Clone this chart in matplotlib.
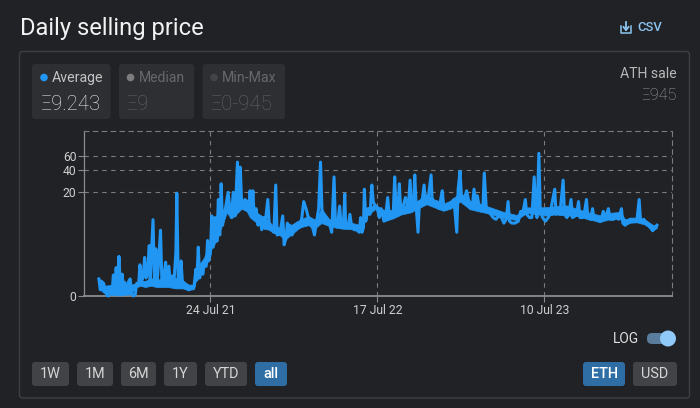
import numpy as np
import pandas as pd
import matplotlib
matplotlib.use("Agg")
import matplotlib.pyplot as plt
from matplotlib.patches import FancyBboxPatch, Circle

plt.rcParams["font.family"] = ["Roboto", "DejaVu Sans"]

# days counted from the first tick, 24 Jul 21
days = [-239, -236, -234, -229, -225, -222, -218, -215, -211, -208, -205, -202, -199, -196, -193, -189,
        -186, -184, -181, -176, -172, -169, -165, -161, -158, -154, -151, -147, -144, -141, -138, -135,
        -131, -129, -126, -123, -120, -117, -114, -111, -107, -104, -101, -96, -93, -89, -86, -82,
        -78, -74, -72, -69, -66, -63, -60, -56, -52, -47, -40, -35, -31, -29, -26, -23,
        -21, -16, -14, -9, -6, -4, 0, 3, 6, 10, 14, 17, 20, 23, 26, 29,
        34, 38, 41, 45, 49, 53, 58, 61, 64, 67, 71, 74, 78, 82, 85, 89,
        91, 94, 98, 102, 106, 110, 115, 117, 123, 126, 131, 136, 140, 143, 149, 155,
        158, 162, 165, 167, 170, 175, 180, 186, 192, 196, 200, 205, 210, 215, 219, 223,
        227, 232, 236, 239, 242, 246, 252, 256, 260, 265, 268, 273, 277, 280, 285, 288,
        290, 295, 299, 303, 308, 313, 319, 322, 325, 328, 330, 333, 338, 342, 346, 349,
        353, 358, 362, 366, 372, 376, 380, 383, 389, 392, 395, 398, 402, 405, 408, 413,
        418, 424, 428, 431, 435, 438, 441, 445, 448, 453, 458, 461, 467, 473, 475, 480,
        485, 490, 497, 500, 506, 512, 518, 522, 528, 531, 535, 538, 543, 549, 555, 558,
        562, 565, 569, 572, 575, 579, 584, 587, 591, 595, 601, 606, 612, 618, 624, 629,
        634, 638, 641, 646, 653, 660, 665, 669, 675, 678, 684, 689, 694, 697, 700, 704,
        707, 712, 718, 724, 728, 732, 738, 741, 745, 749, 756, 759, 764, 768, 773, 776,
        782, 785, 789, 792, 797, 801, 806, 809, 815, 819, 822, 828, 832, 837, 842, 847,
        853, 857, 864, 871, 875, 881, 884, 889, 896, 901, 907, 914, 919, 922, 929, 934,
        939, 944, 948, 952, 957]
prices = [.65, .2, .55, .45, .2, .02, 0, .15, .05, .85, .4, 1.3, .3, 2.2, .3, .9,
          .1, .5, .15, .5, .65, .1, 0, .05, .45, .35, 1.5, .6, .8, 2.1, .7, .9,
          3.4, .6, 3, 8.4, .6, 3, .55, 1.7, 5.9, .55, .5, 1.7, .5, 1.4, .45, .8,
          .55, 2.6, 19.5, .6, .4, 1.8, .5, .45, .25, .2, .25, .35, 1.2, .6, 3.2, .7,
          1.0, .9, 1.5, 1.4, 4.1, 1.8, 2.5, 9.5, 3.2, 9, 4, 16, 5, 26, 7, 9,
          14, 20, 13, 9, 20, 9.5, 50, 14, 43, 14, 12, 16, 15, 12, 21, 10,
          21, 9, 12, 7, 9, 6, 9, 7, 16, 7.5, 6.2, 5.5, 25, 5, 5.2, 9.5,
          3.5, 4.5, 7.5, 5.5, 7, 5, 6, 7.5, 6.5, 9, 15, 12, 9, 7, 6.5, 5,
          7.5, 12, 50, 12, 8, 9, 7.5, 7, 5.5, 32, 7, 7.5, 13, 7, 7, 19,
          6.5, 6.5, 10, 6.5, 6, 6, 5.5, 9, 5.5, 6.5, 22, 8, 12, 10, 25, 15,
          13, 12, 9, 12, 8, 10, 17, 10, 9, 11, 32, 12, 11, 26, 11, 13,
          17, 12, 29, 11, 12, 34, 13, 5.5, 15, 14, 25, 14, 17, 34, 17, 14,
          15, 12, 21, 13, 12, 13, 15, 16, 5.5, 22, 38, 18, 15, 21, 14, 12,
          14, 22, 14, 18, 14, 13, 12, 36, 13, 11, 10, 9, 8.5, 9.5, 9, 7.5,
          8.5, 15, 8, 7.5, 7.5, 8, 11, 10, 16, 10, 9, 9, 32, 12, 9, 65,
          11, 9, 8, 9, 10, 14, 22, 10, 11, 10, 29, 10, 9, 10, 16, 9,
          9.5, 10, 15, 9, 9, 10, 16, 9, 8.5, 12, 9, 9, 8, 8, 11, 9,
          12, 8.5, 8.5, 10, 8.5, 12, 7.5, 7, 8, 8.5, 8, 8, 16, 8, 8.5, 7.5,
          7, 6.3, 5.8, 6.3, 7]

# day to day spread of the average, the solid band under the spikes
band_days = [-239, -229, -205, -190, -172, -158, -150, -140, -128, -115, -101, -90, -75, -60, -47, -35,
             -29, -15, -5, 0, 8, 17, 25, 35, 45, 55, 67, 78, 85, 100, 114, 125,
             135, 148, 160, 172, 192, 210, 224, 238, 255, 270, 285, 305, 324, 335, 353, 365,
             374, 392, 410, 428, 445, 463, 480, 499, 515, 535, 556, 575, 599, 625, 656, 678,
             700, 721, 740, 764, 785, 807, 835, 855, 878, 889, 900, 914, 930, 949, 957]
band_low = [.25, .1, .02, .02, .05, .3, .35, .3, .35, .3, .3, .3, .25, .25, .2, .22,
            .8, 1.2, 1.8, 2.8, 3.5, 4.8, 7, 10.5, 8.8, 10, 12, 11, 9, 7.5, 6.2, 6,
            5.4, 5, 4.2, 5, 6.5, 7, 6.3, 7.5, 6.8, 6.4, 6.2, 6.1, 5.8, 9.6, 11.8, 10,
            8, 8.8, 10, 10.6, 12, 13.8, 12.5, 11.2, 12, 15, 11.8, 11, 10.2, 9, 8.3, 10.5,
            10, 9.6, 10, 9.6, 9.5, 8.6, 7.8, 8.5, 8.6, 7, 7.6, 7.7, 7.2, 5.9, 6.4]
band_high = [.45, .35, .4, .3, .4, .45, .6, .55, .7, .6, .7, .55, .7, .6, .4, .4,
             1.3, 2, 3, 3.8, 6, 8.5, 10, 14, 12.5, 14, 16.5, 14.5, 13, 10.5, 9.2, 8,
             6.8, 6.5, 5.8, 7, 8.4, 9.5, 8.4, 12, 8.5, 8.4, 7.8, 7.5, 7, 11.5, 14, 12,
             11.5, 11.5, 13, 14, 15.5, 19, 16, 14, 15.5, 20, 15.5, 14, 12.6, 11, 9.8, 12.5,
             12.5, 12.6, 13, 13.3, 12, 10.8, 9.7, 10.5, 10.8, 8.5, 9, 9, 8.6, 7, 7]

start_date = pd.Timestamp("2021-07-24")
dates = start_date + pd.to_timedelta(days, unit="D")
band_dates = start_date + pd.to_timedelta(band_days, unit="D")
x_ticks = pd.to_datetime(["2021-07-24", "2022-07-17", "2023-07-10"])
x_labels = ["24 Jul 21", "17 Jul 22", "10 Jul 23"]
y_ticks = [0, 20, 40, 60]

range_buttons = ["1W", "1M", "6M", "1Y", "YTD", "all"]
range_edges = [(32, 69), (77, 113), (121, 156), (164, 197), (205, 247), (255, 287)]

bg = "#202226"
W, H = 700, 408
fig = plt.figure(figsize=(7, 4.08), dpi=100, facecolor=bg)


def box(a, x0, y0, x1, y1, face, edge="none", r=3, lw=1):
    a.add_patch(FancyBboxPatch((x0 + r, y0 + r), x1 - x0 - 2 * r, y1 - y0 - 2 * r,
                               boxstyle="round,pad=%d,rounding_size=%d" % (r, r),
                               fc=face, ec=edge, lw=lw))


# page chrome in pixel coords
ui = fig.add_axes([0, 0, 1, 1])
ui.set_xlim(0, W)
ui.set_ylim(H, 0)
ui.axis("off")

ui.text(19.5, 28, "Daily selling price", fontsize=17.1, color="#f2f2f2", va="center")
box(ui, 19.5, 51.5, 689.5, 398, "none", "#3d3f43")

# csv link
icon = "#8cc4f0"
ui.plot([621, 621, 631, 631], [26, 33, 33, 26], color=icon, lw=1.1)
ui.plot([626, 626], [22, 29.5], color=icon, lw=1.3)
ui.plot([623.5, 626, 628.5], [27, 30, 27], color=icon, lw=1.3)
ui.text(637, 27.5, "CSV", fontsize=9.4, color=icon, va="center", fontweight="medium")

# stat chips
box(ui, 32, 64, 110.5, 119, "#2d2f33")
box(ui, 119, 64, 194, 119, "#2d2f33")
box(ui, 202.5, 64, 285, 119, "#2d2f33")
ui.add_patch(Circle((44, 77.5), 3.8, fc="#2196f3", ec="none"))
ui.add_patch(Circle((130.5, 77.5), 3.8, fc="#7d7d7d", ec="none"))
ui.add_patch(Circle((214, 77.5), 3.8, fc="#424446", ec="none"))
ui.text(52, 78, "Average", fontsize=10.2, color="#c4c4c4", va="center")
ui.text(139, 78, "Median", fontsize=10.1, color="#66686b", va="center")
ui.text(222, 78, "Min-Max", fontsize=10.2, color="#66686b", va="center")
ui.text(40.5, 104, "Ξ9.243", fontsize=14.7, color="#e8e8e8", va="center", fontweight="light")
ui.text(127, 104, "Ξ9", fontsize=14.7, color="#606265", va="center", fontweight="light")
ui.text(210.5, 104, "Ξ0-945", fontsize=14.7, color="#606265", va="center", fontweight="light")

ui.text(676.5, 74, "ATH sale", fontsize=10.1, color="#b8b8b8", va="center", ha="right")
ui.text(676.5, 95, "Ξ945", fontsize=11.6, color="#a0a0a0", va="center", ha="right", fontweight="light")

# bottom buttons
for label, (x0, x1) in zip(range_buttons, range_edges):
    active = label == "all"
    box(ui, x0, 362, x1, 386, "#2f6ea5" if active else "#414346")
    ui.text((x0 + x1) / 2, 374.5, label, fontsize=10.4, ha="center", va="center",
            color="#ffffff" if active else "#d6d6d6", fontweight="medium" if active else "normal")
box(ui, 583, 362, 625, 386, "#2f6ea5")
box(ui, 633, 362, 677, 386, "#414346")
ui.text(604, 374.5, "ETH", fontsize=10.4, ha="center", va="center", color="#ffffff", fontweight="medium")
ui.text(655, 374.5, "USD", fontsize=10.4, ha="center", va="center", color="#d6d6d6")

# log toggle
ui.text(626, 339, "LOG", fontsize=9.9, color="#e0e0e0", ha="center", va="center")
box(ui, 647, 333, 672, 344, "#5a7d9e", r=5)
ui.add_patch(Circle((668, 338.5), 8, fc="#90caf9", ec="none"))

# chart
ax = fig.add_axes([83.5 / W, 1 - 296 / H, (672.3 - 83.5) / W, 164.7 / H])
ax.patch.set_alpha(0)
ax.set_yscale("function", functions=(np.log1p, np.expm1))
ax.set_ylim(0, 125)
ax.set_xlim(start_date + pd.Timedelta(days=-272), start_date + pd.Timedelta(days=990))

ax.fill_between(band_dates, band_low, band_high, color="#2196f3", lw=0.5, zorder=3, clip_on=False)
ax.plot(dates, prices, color="#2196f3", lw=2.2, solid_joinstyle="round", zorder=3, clip_on=False)

ax.set_yticks(y_ticks)
ax.set_xticks(x_ticks)
ax.set_xticklabels(x_labels)
ax.minorticks_off()
ax.grid(True, color="#7c7c7c", ls=(0, (4, 4)), lw=0.8, zorder=1)
ax.tick_params(axis="x", colors="#8a8a8a", length=4, width=0.8, labelcolor="#cfcfcf", labelsize=8.7, pad=2)
ax.tick_params(axis="y", colors="#8a8a8a", length=4, width=0.8, labelcolor="#cfcfcf", labelsize=8.7, pad=1)

for side in ["left", "bottom"]:
    ax.spines[side].set_color("#8c8c8c")
ax.spines["left"].set_linewidth(0.9)
ax.spines["bottom"].set_linewidth(1.3)
for side in ["top", "right"]:
    ax.spines[side].set_color("#7c7c7c")
    ax.spines[side].set_linestyle((0, (4, 4)))
    ax.spines[side].set_linewidth(0.8)

fig.savefig("out.png", dpi=100, facecolor=bg)
